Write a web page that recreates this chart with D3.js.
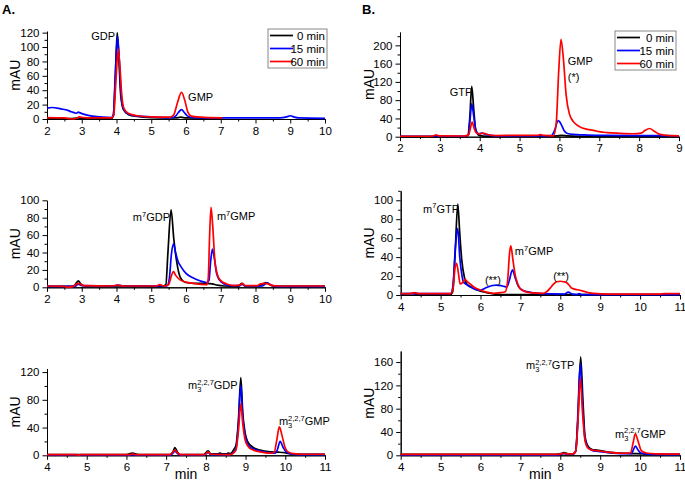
<!DOCTYPE html>
<html><head><meta charset="utf-8">
<script src="https://cdn.jsdelivr.net/npm/d3@7"></script>
<style>
html,body{margin:0;padding:0;background:#fff;}
svg{display:block;font-family:"Liberation Sans",Arial,sans-serif;}
</style></head>
<body>
<svg id="chart" width="685" height="482"></svg>
<script>
// ---------------- DATA (time in min, absorbance in mAU) ----------------
const seriesNames = ["0 min", "15 min", "60 min"];
const seriesColors = ["#000000", "#0000ff", "#ff0000"];

// Panel A top: GDP hydrolysis
const a1Black = [[2,0.5],[2.6,0.5],[2.8,1],[2.9,1.5],[3.0,0.5],[3.85,0.5],[3.91,5],[3.96,50],[4.02,120],[4.07,82],[4.12,34],[4.2,13],[4.35,6],[4.6,3.5],[5,2],[5.7,1.5],[5.85,2.5],[6.0,1.5],[7.05,1]];
const a1Blue = [[2,15],[2.15,16],[2.4,14],[2.6,12],[2.7,10],[2.8,8.5],[2.85,8],[2.9,9.5],[2.95,8.5],[3.1,6],[3.3,4],[3.6,2.5],[3.85,2],[3.91,6],[3.96,55],[4.03,115],[4.08,82],[4.13,35],[4.2,14],[4.35,6.5],[4.6,4],[5,3],[5.6,2],[5.7,4],[5.78,9],[5.87,13],[5.95,9],[6.05,4],[6.2,2],[7,1.5],[8.7,1.5],[8.9,3],[9.0,4.5],[9.1,3],[9.25,1.5],[10,1]];
const a1Red = [[2,2],[2.5,1.5],[2.65,0.5],[2.75,0],[2.85,1],[2.93,3],[3.05,2],[3.3,1.5],[3.85,1.5],[3.92,5],[3.98,50],[4.05,97],[4.1,72],[4.15,34],[4.22,14],[4.35,7.5],[4.6,4.5],[5,3],[5.55,2.5],[5.65,6],[5.75,22],[5.87,37],[5.97,25],[6.05,10],[6.15,4],[6.4,2.5],[7.05,1.5]];

// Panel B top: GTP hydrolysis
const b1Black = [[2,0],[3.6,0],[3.7,2],[3.75,40],[3.8,110],[3.85,60],[3.9,15],[3.98,3],[4.2,1],[5.8,1],[5.95,2],[6.05,3],[6.2,2],[6.5,1],[7.0,0.5],[9,0.5]];
const b1Blue = [[2,1],[2.85,1],[2.9,2],[2.95,1],[3.65,1],[3.72,5],[3.76,40],[3.8,72],[3.85,45],[3.9,15],[3.97,6],[4.05,8],[4.15,5],[4.4,2],[5.5,2],[5.8,2.5],[5.87,12],[5.97,35],[6.05,26],[6.12,13],[6.2,7],[6.35,5],[6.6,4],[7,3],[8,2.5],[9,2]];
const b1Red = [[2,1],[2.6,1],[2.7,0.5],[2.85,2],[2.9,4],[2.97,2],[3.6,1.5],[3.72,4],[3.77,20],[3.81,32],[3.86,18],[3.92,8],[4.0,6],[4.08,8],[4.15,6],[4.4,2.5],[5.0,3],[5.45,3],[5.52,4.5],[5.6,3],[5.85,2],[5.92,30],[5.98,140],[6.04,213],[6.1,170],[6.17,90],[6.25,50],[6.35,33],[6.5,22],[6.7,16],[6.85,14],[7.0,11],[7.2,9],[7.5,7.5],[7.85,6.5],[8.05,8],[8.15,14],[8.26,18],[8.38,12],[8.52,5],[8.7,3],[9,2]];

// Panel A middle: m7GDP
const a2Black = [[2,1],[2.7,1],[2.8,2.5],[2.9,7.5],[2.97,4],[3.1,1.5],[4,1.5],[5.3,1],[5.42,3],[5.48,40],[5.57,89],[5.65,55],[5.73,30],[5.83,12],[6.0,5.5],[6.3,4.5],[6.6,4.5],[6.75,4],[6.9,2.5],[7.1,1.5],[7.5,1],[7.6,4.5],[7.7,1.5],[8.1,1.5],[8.3,5.5],[8.45,2],[8.6,1],[10,1]];
const a2Blue = [[2,1],[2.8,1],[2.9,3.5],[3.0,2],[3.9,1.5],[4.05,2.5],[4.2,1.5],[5.45,1.5],[5.52,10],[5.58,38],[5.64,50],[5.7,40],[5.77,30],[5.85,24],[6.0,16],[6.2,11],[6.4,7.5],[6.6,5.5],[6.66,8],[6.71,30],[6.76,44],[6.82,32],[6.88,16],[6.97,8],[7.07,4.5],[7.3,2],[7.55,2],[7.62,3.5],[7.7,1.5],[8.2,1.5],[8.33,5],[8.45,2.5],[8.6,1],[10,1]];
const a2Red = [[2,1.5],[2.5,1],[2.6,0],[2.75,1],[2.9,4.5],[3.05,2],[3.9,1.5],[4.02,2.5],[4.2,1.5],[5.15,1.5],[5.25,3],[5.35,1.5],[5.5,3],[5.57,12],[5.64,18],[5.7,14],[5.83,8.5],[6.0,6],[6.2,4.5],[6.6,3],[6.64,10],[6.68,60],[6.72,92],[6.77,70],[6.83,31],[6.9,15],[6.98,8.5],[7.17,3.8],[7.4,2],[7.55,2.5],[7.62,4.5],[7.7,2],[8.05,2],[8.15,4],[8.25,4.5],[8.35,4],[8.5,2],[8.7,1.5],[10,1.5]];

// Panel B middle: m7GTP
const b2Black = [[4,1],[4.3,1.5],[4.4,1],[5.25,0.5],[5.3,3],[5.36,40],[5.43,96],[5.48,65],[5.53,37],[5.6,18],[5.65,12],[5.82,7],[6.0,4],[6.15,2.5],[6.5,0.5],[11,0.3]];
const b2Blue = [[4,1.5],[5.25,1.5],[5.31,10],[5.37,50],[5.43,70],[5.48,40],[5.53,22],[5.57,14],[5.65,11],[5.74,9],[5.9,5.5],[5.99,5],[6.15,8],[6.3,10],[6.4,10.5],[6.55,9.5],[6.66,8.5],[6.72,15],[6.8,26.5],[6.87,18],[6.95,9],[7.05,5],[7.16,3.5],[7.5,1.5],[8.1,1],[8.2,3],[8.3,1],[8.42,0.5],[8.47,1.5],[8.53,0.5],[9,0.3],[11,0.3]];
const b2Red = [[4,1.5],[4.25,1.5],[4.35,2.5],[4.45,1.5],[5.25,1.5],[5.31,6],[5.36,28],[5.4,33.5],[5.45,22],[5.49,11.6],[5.55,13],[5.61,16.5],[5.67,14],[5.74,11.6],[5.85,8],[5.99,5.3],[6.15,3],[6.32,1.8],[6.5,2.5],[6.62,3.5],[6.68,15],[6.73,45],[6.76,52],[6.81,38],[6.87,21],[6.93,12],[6.99,7],[7.1,4],[7.24,2.5],[7.58,1.8],[7.66,3.5],[7.74,7],[7.82,11],[7.91,14],[8.0,14.5],[8.08,14],[8.16,13],[8.23,10],[8.29,7],[8.38,6],[8.49,5],[8.65,3],[8.83,1.8],[9.2,1],[10.5,1],[10.6,1.5],[11,1.5]];

// Panel A bottom: m3(2,2,7)GDP
const a3Black = [[4,1],[6.0,1],[6.15,3],[6.3,1],[7.1,1],[7.17,5],[7.22,11],[7.28,5],[7.35,1],[7.95,1],[8.02,5],[8.06,6.5],[8.12,2],[8.3,2],[8.35,3],[8.42,2],[8.52,2],[8.56,3],[8.62,2.5],[8.7,8],[8.76,15],[8.82,50],[8.88,112],[8.93,60],[8.99,32],[9.05,20],[9.11,15],[9.2,11],[9.36,7.5],[9.62,5],[9.83,4.5],[9.95,4],[10.1,2.5],[10.3,1.5],[11,1.5]];
const a3Blue = [[4,0.5],[7.1,0.5],[7.17,3],[7.22,6],[7.28,3],[7.35,0.5],[7.95,0.5],[8.03,3],[8.06,4],[8.12,1],[8.6,1],[8.7,4],[8.76,10],[8.82,45],[8.88,101],[8.93,55],[8.99,28],[9.05,17],[9.11,12],[9.2,9],[9.36,6],[9.62,3.5],[9.75,3],[9.8,8],[9.87,20],[9.94,12],[10.02,5],[10.15,2],[10.4,1],[11,1]];
const a3Red = [[4,1],[4.75,1],[4.8,0.3],[4.85,1],[6.1,1],[6.15,2],[6.22,1],[7.1,1],[7.16,4],[7.22,7.5],[7.28,4],[7.35,1],[7.97,1],[8.03,4],[8.06,5],[8.12,1.5],[8.6,1],[8.7,3.5],[8.76,8],[8.82,35],[8.88,74],[8.93,45],[8.99,22],[9.05,14],[9.11,10],[9.2,7.5],[9.36,5],[9.62,3],[9.72,4],[9.78,20],[9.85,41],[9.92,28],[9.99,12],[10.07,5],[10.2,2.5],[10.5,1.5],[11,1.5]];

// Panel B bottom: m3(2,2,7)GTP
const b3Black = [[4,1.5],[7.9,1.5],[8.02,3],[8.09,4.5],[8.17,3],[8.3,2],[8.38,6],[8.44,60],[8.51,169],[8.57,90],[8.62,32],[8.7,15],[8.8,10],[8.91,9],[9.16,6],[9.58,3.5],[9.8,3],[9.9,3],[10.2,2],[11,1.5]];
const b3Blue = [[4,0.8],[7.9,0.8],[8.02,2],[8.09,3],[8.17,2],[8.32,2],[8.39,8],[8.44,70],[8.5,158],[8.56,85],[8.62,28],[8.7,13],[8.8,8.5],[8.91,7],[9.16,5],[9.58,3],[9.78,3],[9.83,9],[9.88,16],[9.94,10],[10.02,4],[10.2,2],[11,1]];
const b3Red = [[4,1.5],[7.9,1.5],[8.02,2.5],[8.09,3.5],[8.17,2.5],[8.32,2.5],[8.39,8],[8.44,55],[8.5,132],[8.56,70],[8.62,25],[8.7,12],[8.8,9],[8.91,8],[9.16,5.5],[9.58,3.5],[9.76,4],[9.82,20],[9.88,37],[9.95,24],[10.03,8],[10.15,4],[10.4,2.5],[11,2]];

// Peak labels: [time, mAU, parts, anchor]  (parts: [text, kind])
const a1Labels = [[3.96,110,[["GDP",""]],"end"],[6.06,25,[["GMP",""]],"start"]];
const b1Labels = [[3.25,89,[["GTP",""]],"start"],[6.21,157,[["GMP",""]],"start"],[6.21,122,[["(*)",""]],"start"]];
const a2Labels = [[4.47,76,[["m",""],["7","sup"],["GDP",""]],"start"],[6.89,77,[["m",""],["7","sup"],["GMP",""]],"start"]];
const b2Labels = [[4.56,86.6,[["m",""],["7","sup"],["GTP",""]],"start"],[6.86,42,[["m",""],["7","sup"],["GMP",""]],"start"],[6.31,11.5,[["(**)",""]],"middle"],[8.02,15.8,[["(**)",""]],"middle"]];
const a3Labels = [[7.55,95.5,[["m",""],["3","sub"],["2,2,7","supover"],["GDP",""]],"start"],[9.84,43.6,[["m",""],["3","sub"],["2,2,7","supover"],["GMP",""]],"start"]];
const b3Labels = [[7.14,148,[["m",""],["3","sub"],["2,2,7","supover"],["GTP",""]],"start"],[9.37,29.7,[["m",""],["3","sub"],["2,2,7","supover"],["GMP",""]],"start"]];

// ---------------- LAYOUT ----------------
const panels = [
  {xd:[2,10], xr:[47,325], yd:[0,122], yr:[119,31.2], xs:1, xm:0.5, ys:20, ym:10, series:[a1Black,a1Blue,a1Red], labels:a1Labels, legend:{x:268,y:29,w:59,h:39}, mauX:20},
  {xd:[2,9], xr:[400,679], yd:[0,229], yr:[136.7,32.1], xs:1, xm:0.5, ys:40, ym:20, series:[b1Black,b1Blue,b1Red], labels:b1Labels, legend:{x:615,y:31,w:61,h:39}, mauX:374},
  {xd:[2,10], xr:[47,325], yd:[0,100], yr:[287.3,200.3], xs:1, xm:0.5, ys:20, ym:10, series:[a2Black,a2Blue,a2Red], labels:a2Labels, mauX:20},
  {xd:[4,11], xr:[400.7,680], yd:[0,110], yr:[295,190.8], xs:1, xm:0.5, ys:20, ym:10, series:[b2Black,b2Blue,b2Red], labels:b2Labels, mauX:374},
  {xd:[4,11], xr:[47,325], yd:[0,125], yr:[455.3,368.6], xs:1, xm:0.5, ys:40, ym:20, series:[a3Black,a3Blue,a3Red], labels:a3Labels, mauX:20, xlabel:"min"},
  {xd:[4,11], xr:[400.7,680], yd:[0,179], yr:[455.3,351], xs:1, xm:0.5, ys:40, ym:20, series:[b3Black,b3Blue,b3Red], labels:b3Labels, mauX:374, xlabel:"min"}
];

const svg = d3.select("#chart");
svg.append("rect").attr("width",685).attr("height",482).attr("fill","#fff");

svg.append("text").attr("x",2).attr("y",13.5).attr("font-size",13).attr("font-weight","bold").text("A.");
svg.append("text").attr("x",362).attr("y",13.5).attr("font-size",13).attr("font-weight","bold").text("B.");

function rng(a,b,s){ const out=[]; for(let v=a; v<=b+1e-9; v+=s) out.push(+v.toFixed(4)); return out; }

panels.forEach(p => {
  const x = d3.scaleLinear().domain(p.xd).range(p.xr);
  const y = d3.scaleLinear().domain(p.yd).range(p.yr);
  const g = svg.append("g");

  const xMinor = rng(p.xd[0], p.xd[1], p.xm).filter(v => Math.abs(v/p.xs - Math.round(v/p.xs))>1e-6);
  const yMinor = rng(p.yd[0], p.yd[1], p.ym).filter(v => Math.abs(v/p.ys - Math.round(v/p.ys))>1e-6);
  const xAxisMinor = d3.axisBottom(x).tickValues(xMinor).tickSize(2.5).tickFormat("").tickSizeOuter(0);
  const yAxisMinor = d3.axisLeft(y).tickValues(yMinor).tickSize(2.5).tickFormat("").tickSizeOuter(0);
  const xAxis = d3.axisBottom(x).tickValues(rng(p.xd[0], p.xd[1], p.xs)).tickSize(4.5).tickPadding(3).tickFormat(d3.format("d")).tickSizeOuter(0);
  const yAxis = d3.axisLeft(y).tickValues(rng(p.yd[0], p.yd[1], p.ys)).tickSize(4.5).tickPadding(3).tickFormat(d3.format("d")).tickSizeOuter(0);

  const y0 = y(0);
  [xAxisMinor, xAxis].forEach(ax => {
    const a = g.append("g").attr("transform",`translate(0,${y0})`).call(ax);
    a.selectAll("text").attr("font-size",11.5).attr("font-family","Liberation Sans, Arial, sans-serif").attr("fill","#000");
  });
  [yAxisMinor, yAxis].forEach(ax => {
    const a = g.append("g").attr("transform",`translate(${p.xr[0]},0)`).call(ax);
    a.selectAll("text").attr("font-size",11.5).attr("font-family","Liberation Sans, Arial, sans-serif").attr("fill","#000");
  });
  g.selectAll(".domain").attr("stroke","#000").attr("stroke-width",1);
  g.selectAll(".tick line").attr("stroke","#000").attr("stroke-width",1);

  const yc = (p.yr[0]+p.yr[1])/2;
  g.append("text").attr("transform",`translate(${p.mauX},${yc}) rotate(-90)`)
    .attr("text-anchor","middle").attr("font-size",14).text("mAU");
  if (p.xlabel) {
    g.append("text").attr("x",(p.xr[0]+p.xr[1])/2).attr("y",479).attr("text-anchor","middle").attr("font-size",14).text(p.xlabel);
  }

  const line = d3.line().x(d=>x(d[0])).y(d=>y(d[1])).curve(d3.curveMonotoneX);
  p.series.forEach((s,i) => {
    g.append("path").datum(s).attr("d",line).attr("fill","none")
      .attr("stroke",seriesColors[i]).attr("stroke-width",1.7).attr("stroke-linejoin","round");
  });

  p.labels.forEach(lb => {
    const t = g.append("text").attr("x",x(lb[0])).attr("y",y(lb[1])).attr("font-size",11).attr("text-anchor",lb[3]).attr("fill","#000");
    let shift = 0;
    lb[2].forEach(part => {
      const [txt, kind] = part;
      const ts = t.append("tspan").text(txt);
      if (kind === "sup") { ts.attr("font-size",7.5).attr("dy",-4.5-shift); shift = -4.5; }
      else if (kind === "sub") { ts.attr("font-size",7.5).attr("dy",3-shift); shift = 3; }
      else if (kind === "supover") { ts.attr("font-size",7.5).attr("dx",-4.2).attr("dy",-4.5-shift); shift = -4.5; }
      else { ts.attr("dy",-shift); shift = 0; }
    });
  });

  if (p.legend) {
    const L = p.legend;
    const lg = g.append("g");
    lg.append("rect").attr("x",L.x).attr("y",L.y).attr("width",L.w).attr("height",L.h)
      .attr("fill","#fff").attr("stroke","#888").attr("stroke-width",1);
    seriesNames.forEach((n,i) => {
      const yy = L.y + 6.5 + i*13;
      lg.append("line").attr("x1",L.x+2).attr("x2",L.x+25).attr("y1",yy).attr("y2",yy)
        .attr("stroke",seriesColors[i]).attr("stroke-width",1.7);
      lg.append("text").attr("x",L.x+L.w-2).attr("y",yy+4).attr("text-anchor","end").attr("font-size",11.5).text(n);
    });
  }
});
</script>
</body></html>
